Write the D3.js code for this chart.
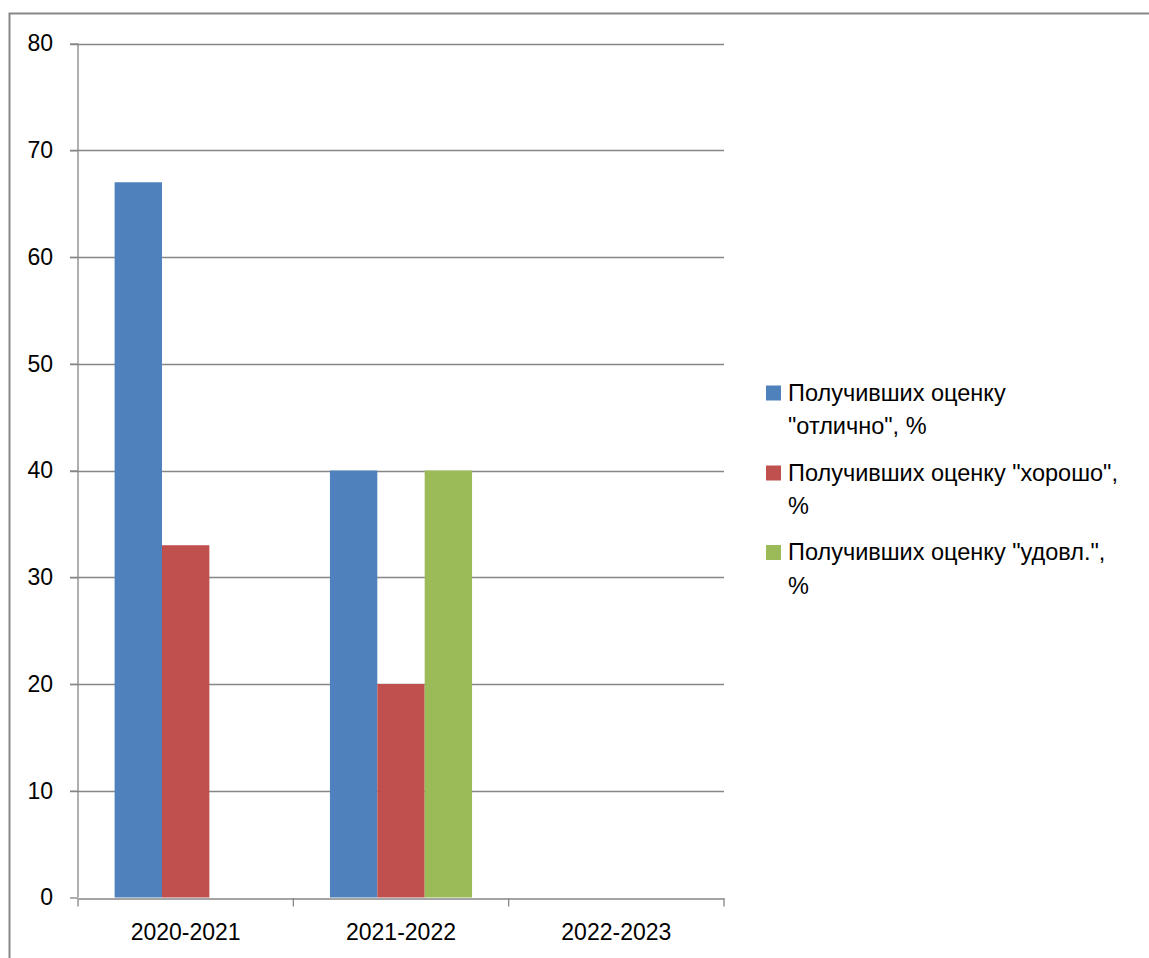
<!DOCTYPE html>
<html><head><meta charset="utf-8">
<script src="https://cdn.jsdelivr.net/npm/d3@7"></script>
<style>body{margin:0;background:#fff}svg{display:block}</style>
</head><body>
<script>
const categories = ["2020-2021", "2021-2022", "2022-2023"];
const seriesNames = ["Получивших оценку \"отлично\", %", "Получивших оценку \"хорошо\", %", "Получивших оценку \"удовл.\", %"];
const legendLines = [["Получивших оценку", "\"отлично\", %"], ["Получивших оценку \"хорошо\",", "%"], ["Получивших оценку \"удовл.\",", "%"]];
const excellent = [67, 40, null];
const good = [33, 20, null];
const satisfactory = [null, 40, null];
const yTicks = [0, 10, 20, 30, 40, 50, 60, 70, 80];
const colors = ["#4F81BD", "#C0504D", "#9BBB59"];
const seriesValues = [excellent, good, satisfactory];

const W = 1149, H = 958;
const svg = d3.select("body").append("svg").attr("width", W).attr("height", H);
const font = "Liberation Sans, Arial, sans-serif";

// outer border
svg.append("path").attr("d", `M9.5,${H} V13.5 H1150`).attr("fill", "none").attr("stroke", "#878787").attr("stroke-width", 2);

const x0 = 78, x1 = 724, yTop = 43.5, yBot = 897.5;
const x = d3.scaleBand().domain(categories).range([x0, x1]).padding(0);
const y = d3.scaleLinear().domain([0, 80]).range([yBot, yTop]);
const gap = x.bandwidth() * 0.34;
const xs = d3.scaleBand().domain(d3.range(3)).range([gap / 2, x.bandwidth() - gap / 2]).padding(0);

// gridlines
svg.append("g").selectAll("line").data(yTicks.filter(d => d > 0)).join("line")
  .attr("x1", 70).attr("x2", x1).attr("y1", d => Math.round(y(d)) + 0.5).attr("y2", d => Math.round(y(d)) + 0.5)
  .attr("stroke", "#868686").attr("stroke-width", 1.3);

// bars
categories.forEach((c, ci) => {
  seriesValues.forEach((vals, si) => {
    const v = vals[ci];
    if (v == null) return;
    svg.append("rect").attr("x", x(c) + xs(si)).attr("width", xs.bandwidth())
      .attr("y", y(v)).attr("height", y(0) - y(v)).attr("fill", colors[si]);
  });
});

// y axis
const yAxis = d3.axisLeft(y).tickValues(yTicks).tickSize(8).tickPadding(17).tickFormat(d3.format("d"));
const gy = svg.append("g").attr("transform", `translate(${x0},0)`).call(yAxis);
gy.select(".domain").remove();
gy.append("line").attr("x1", 0).attr("x2", 0).attr("y1", yTop).attr("y2", yBot).attr("stroke", "#868686").attr("stroke-width", 1.3);
gy.selectAll(".tick line").attr("stroke", "#868686").attr("stroke-width", 1.3);
gy.selectAll(".tick text").attr("font-family", font).attr("font-size", 23).attr("fill", "#000");

// x axis
const xAxis = d3.axisBottom(x).tickSize(0).tickPadding(25.5);
const gx = svg.append("g").attr("transform", `translate(0,${Math.round(yBot) + 0.5})`).call(xAxis);
gx.select(".domain").attr("stroke", "#868686").attr("stroke-width", 1.3);
gx.selectAll(".tick text").attr("font-family", font).attr("font-size", 23).attr("fill", "#000");
const boundaries = [x0].concat(categories.map(c => x(c) + x.bandwidth()));
gx.selectAll("line.bound").data(boundaries).join("line").attr("class", "bound")
  .attr("x1", d => d).attr("x2", d => d).attr("y1", 0).attr("y2", 8)
  .attr("stroke", "#868686").attr("stroke-width", 1.3);

// legend
const legendY = [400.5, 480.5, 560];
const lg = svg.append("g");
legendLines.forEach((lines, i) => {
  lg.append("rect").attr("x", 766).attr("y", legendY[i] - 15).attr("width", 15).attr("height", 15).attr("fill", colors[i]);
  const t = lg.append("text").attr("font-family", font).attr("font-size", 23.5).attr("fill", "#000");
  lines.forEach((ln, j) => {
    t.append("tspan").attr("x", 788).attr("y", legendY[i] + j * 33.5).text(ln);
  });
});
</script>
</body></html>
